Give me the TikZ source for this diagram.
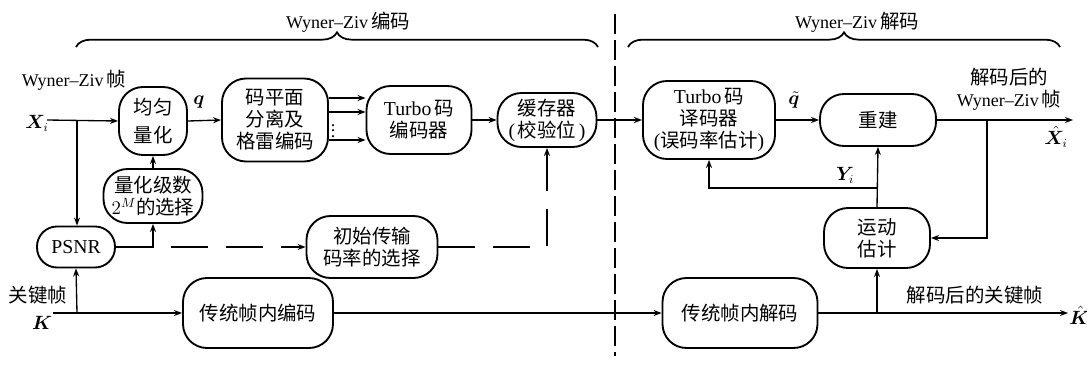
\documentclass[tikz,border=0pt]{standalone}
\usepackage{fontspec}
\usepackage{bm}
\setmainfont{Liberation Serif}
\newfontfamily\cjk[Scale=1.08]{Noto Sans CJK SC}
\newcommand\lat[1]{{\rmfamily\fontsize{14.8}{16.5}\selectfont #1}}
\usetikzlibrary{arrows.meta,decorations.pathreplacing,calc}
\begin{document}
\begin{tikzpicture}[x=0.75pt,y=-0.75pt,
  box/.style={draw,line width=1.4pt,rounded corners=18pt,align=center,inner sep=0pt,
    font=\cjk\fontsize{13.5}{16.5}\selectfont},
  arr/.style={line width=1pt,-{Stealth[length=6pt,width=4.5pt]}},
  ln/.style={line width=1pt},
  lbl/.style={inner sep=0pt,align=center,font=\fontsize{13.5}{16.5}\selectfont},
  dsh/.style={dash pattern=on 27.75pt off 13.5pt},
]
\useasboundingbox (0,0) rectangle (1087,364);

% boxes
\node[box,minimum width=51pt,minimum height=51pt] (quant) at (153,121) {均匀\\[4pt]量化};
\node[box,minimum width=79.5pt,minimum height=62.25pt] (bp) at (275,120) {码平面\\分离及\\格雷编码};
\node[box,minimum width=78.75pt,minimum height=51pt] (tenc) at (419,120) {\lat{Turbo}\,码\\编码器};
\node[box,minimum width=74.25pt,minimum height=40.5pt] (buf) at (547,120) {缓存器\\\lat{(\hspace{2pt}}校验位\lat{\hspace{2pt})}};
\node[box,minimum width=99pt,minimum height=58.5pt] (tdec) at (709,120) {\lat{Turbo}\,码\\译码器\\\lat{(}误码率估计\lat{)}};
\node[box,minimum width=87pt,minimum height=39pt] (rec) at (878,120) {重建};
\node[box,rounded corners=15pt,minimum width=58.5pt,minimum height=30.75pt] (psnr) at (76,247) {\lat{PSNR}};
\node[box,minimum width=74.25pt,minimum height=40.5pt] (qsel) at (153,196) {量化级数\\\lat{$2^M$}的选择};
\node[box,minimum width=98.25pt,minimum height=46.5pt] (rate) at (372,247) {初始传输\\码率的选择};
\node[box,minimum width=112.5pt,minimum height=52.5pt] (ienc) at (258,313) {传统帧内编码};
\node[box,minimum width=116.25pt,minimum height=52.5pt] (idec) at (740,313) {传统帧内解码};
\node[box,minimum width=79.5pt,minimum height=45pt] (me) at (877,238) {运动\\估计};

% labels
\node[lbl] (t1) at (348,22) {Wyner--Ziv\,{\cjk 编码}};
\node[lbl] (t2) at (857,22) {Wyner--Ziv\,{\cjk 解码}};
\node[lbl] (t3) at (74,80) {Wyner--Ziv\,{\cjk 帧}};
\node[lbl] (t4) at (1009,89) {{\cjk 解码后的}\\Wyner--Ziv\,{\cjk 帧}};
\node[lbl] (t5) at (38,295) {\cjk 关键帧};
\node[lbl] (t6) at (975,295) {\cjk 解码后的关键帧};
\node[lbl] (xi) at (37,123) {$\bm{X}_i$};
\node[lbl] (kk) at (42,323) {$\bm{K}$};
\node[lbl] (qq) at (199,102) {$\bm{q}$};
\node[lbl] (qt) at (794,100) {$\tilde{\bm{q}}$};
\node[lbl] (yi) at (845,175) {$\bm{Y}_i$};
\node[lbl] (xh) at (1056,137) {$\hat{\bm{X}}_i$};
\node[lbl,anchor=west] (kh) at (1069,315) {$\hat{\bm{K}}$};
\node[lbl] (dots) at (333,127) {$\vdots$};

% coordinates
\coordinate (xin) at (47,120);
\coordinate (xb) at (77,120);
\coordinate (kin) at (53,313);
\coordinate (kb) at (77,313);
\coordinate (xout) at (1073,120);
\coordinate (xo) at (987,120);
\coordinate (kout) at (1068,313);
\coordinate (kb2) at (877,313);
\coordinate (yb) at (877,188);
\coordinate (pb) at (153,247);

% braces
\draw[line width=1.3pt,decorate,decoration={brace,amplitude=11pt}] (76,47) -- (598,47);
\draw[line width=1.3pt,decorate,decoration={brace,amplitude=11pt}] (628,47) -- (1060,47);

% separator
\draw[line width=1.3pt,dash pattern=on 15pt off 4.5pt] (615,14) -- (615,356);

% encoder connectors
\draw[arr] (xin) -- (quant.west);
\draw[arr] (xb) -- (xb |- psnr.north);
\draw[arr] (quant.east) -- (bp.west);
\draw[arr] (bp.east |- 0,98) -- (tenc.west |- 0,98);
\draw[arr] (bp.east |- 0,112) -- (tenc.west |- 0,112);
\draw[arr] (bp.east |- 0,140) -- (tenc.west |- 0,140);
\draw[arr] (tenc.east) -- (buf.west);
\draw[arr] (buf.east) -- (tdec.west);
\draw[arr] (qsel.north) -- (quant.south);
\draw[arr] (psnr.east) -| (qsel.south);
\draw[arr,dsh,dash phase=27.75pt] (pb) -- (rate.west);
\draw[arr,dsh] (rate.east) -| (buf.south);
\draw[arr] (kin) -- (ienc.west);
\draw[arr] (kb) -- (psnr.south);
\draw[arr] (ienc.east) -- (idec.west);

% decoder connectors
\draw[arr] (tdec.east) -- (rec.west);
\draw[arr] (rec.east) -- (xout);
\draw[arr] (xo) |- (me.east);
\draw[arr] (me.north) -- (rec.south);
\draw[arr] (yb) -| (tdec.south);
\draw[arr] (idec.east) -- (kout);
\draw[arr] (kb2) -- (me.south);
\end{tikzpicture}
\end{document}
